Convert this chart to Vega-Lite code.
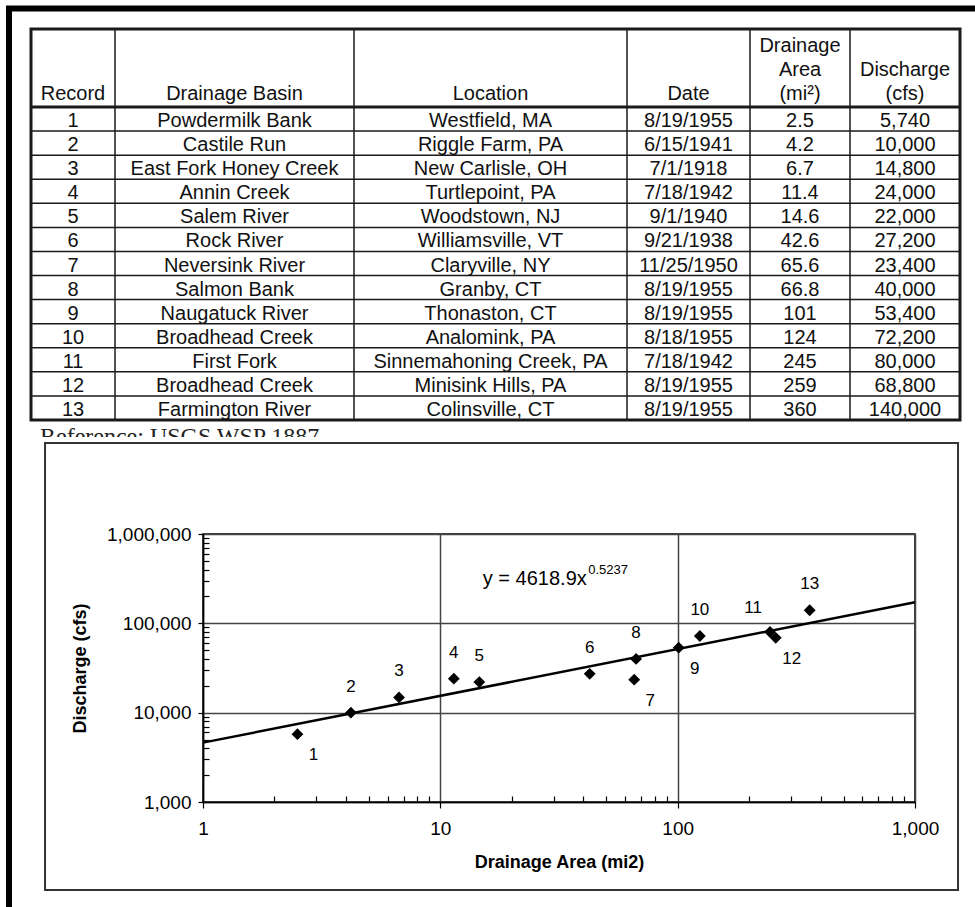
{
"$schema":"https://vega.github.io/schema/vega-lite/v6.json",
"width":712,"height":268,
"autosize":{"type":"none"},
"padding":{"left":203,"top":534,"right":60,"bottom":105},
"background":"white",
"config":{"view":{"stroke":"black","strokeWidth":1.5},"font":"Liberation Sans","text":{"font":"Liberation Sans","color":"#111"}},
"datasets":{
"records":[
{"Record":1,"Basin":"Powdermilk Bank","Location":"Westfield, MA","Date":"8/19/1955","Area":2.5,"Discharge":5740},
{"Record":2,"Basin":"Castile Run","Location":"Riggle Farm, PA","Date":"6/15/1941","Area":4.2,"Discharge":10000},
{"Record":3,"Basin":"East Fork Honey Creek","Location":"New Carlisle, OH","Date":"7/1/1918","Area":6.7,"Discharge":14800},
{"Record":4,"Basin":"Annin Creek","Location":"Turtlepoint, PA","Date":"7/18/1942","Area":11.4,"Discharge":24000},
{"Record":5,"Basin":"Salem River","Location":"Woodstown, NJ","Date":"9/1/1940","Area":14.6,"Discharge":22000},
{"Record":6,"Basin":"Rock River","Location":"Williamsville, VT","Date":"9/21/1938","Area":42.6,"Discharge":27200},
{"Record":7,"Basin":"Neversink River","Location":"Claryville, NY","Date":"11/25/1950","Area":65.6,"Discharge":23400},
{"Record":8,"Basin":"Salmon Bank","Location":"Granby, CT","Date":"8/19/1955","Area":66.8,"Discharge":40000},
{"Record":9,"Basin":"Naugatuck River","Location":"Thonaston, CT","Date":"8/19/1955","Area":101,"Discharge":53400},
{"Record":10,"Basin":"Broadhead Creek","Location":"Analomink, PA","Date":"8/18/1955","Area":124,"Discharge":72200},
{"Record":11,"Basin":"First Fork","Location":"Sinnemahoning Creek, PA","Date":"7/18/1942","Area":245,"Discharge":80000},
{"Record":12,"Basin":"Broadhead Creek","Location":"Minisink Hills, PA","Date":"8/19/1955","Area":259,"Discharge":68800},
{"Record":13,"Basin":"Farmington River","Location":"Colinsville, CT","Date":"8/19/1955","Area":360,"Discharge":140000}
],
"headers":[
{"col":0,"label":"Record"},
{"col":1,"label":"Drainage Basin"},
{"col":2,"label":"Location"},
{"col":3,"label":"Date"},
{"col":4,"label":"Drainage\nArea\n(mi²)"},
{"col":5,"label":"Discharge\n(cfs)"}
],
"trend":[
{"Area":1,"Discharge":4619},
{"Area":1000,"Discharge":172000}
]
},
"resolve":{"scale":{"x":"independent","y":"independent"}},
"layer":[
{"layer":[
{"data":{"values":[{}]},"mark":{"type":"rect","fill":"transparent","stroke":"black","strokeWidth":6},
 "encoding":{"x":{"datum":-0.762,"type":"quantitative","scale":{"type":"linear","domain":[-0.5,0.5,1.5,2.5,3.5,4.5,5.5],"range":[-172,-88,151,424,547,647,757],"zero":false,"nice":false},"axis":null},"x2":{"datum":9},
 "y":{"datum":-1.263,"type":"quantitative","scale":{"type":"linear","domain":[-1,0,13],"range":[-505,-427,-114],"zero":false,"nice":false},"axis":null},"y2":{"datum":45}}},
{"data":{"values":[{}]},"mark":{"type":"rect","fill":"transparent","stroke":"#1a1a1a","strokeWidth":3},
 "encoding":{"x":{"datum":-0.5,"type":"quantitative","axis":null},"x2":{"datum":5.5},"y":{"datum":-1,"type":"quantitative","axis":null},"y2":{"datum":13}}},
{"data":{"values":[{}]},"mark":{"type":"rule","color":"#1a1a1a","strokeWidth":3},
 "encoding":{"x":{"datum":-0.5,"type":"quantitative","axis":null},"x2":{"datum":5.5},"y":{"datum":0,"type":"quantitative","axis":null}}},
{"data":{"name":"records"},"mark":{"type":"rule","color":"#1a1a1a","strokeWidth":1.5},
 "encoding":{"x":{"datum":-0.5,"type":"quantitative","axis":null},"x2":{"datum":5.5},"y":{"field":"Record","type":"quantitative","axis":null}}},
{"data":{"values":[{}]},"mark":{"type":"rule","color":"#1a1a1a","strokeWidth":1.5},
 "encoding":{"x":{"datum":0.5,"type":"quantitative","axis":null},"y":{"datum":-1,"type":"quantitative","axis":null},"y2":{"datum":13}}},
{"data":{"values":[{}]},"mark":{"type":"rule","color":"#1a1a1a","strokeWidth":1.5},
 "encoding":{"x":{"datum":1.5,"type":"quantitative","axis":null},"y":{"datum":-1,"type":"quantitative","axis":null},"y2":{"datum":13}}},
{"data":{"values":[{}]},"mark":{"type":"rule","color":"#1a1a1a","strokeWidth":1.5},
 "encoding":{"x":{"datum":2.5,"type":"quantitative","axis":null},"y":{"datum":-1,"type":"quantitative","axis":null},"y2":{"datum":13}}},
{"data":{"values":[{}]},"mark":{"type":"rule","color":"#1a1a1a","strokeWidth":1.5},
 "encoding":{"x":{"datum":3.5,"type":"quantitative","axis":null},"y":{"datum":-1,"type":"quantitative","axis":null},"y2":{"datum":13}}},
{"data":{"values":[{}]},"mark":{"type":"rule","color":"#1a1a1a","strokeWidth":1.5},
 "encoding":{"x":{"datum":4.5,"type":"quantitative","axis":null},"y":{"datum":-1,"type":"quantitative","axis":null},"y2":{"datum":13}}},
{"data":{"name":"headers"},"transform":[{"filter":{"field":"col","oneOf":[0,1,2,3]}}],
 "mark":{"type":"text","fontSize":20,"align":"center","baseline":"alphabetic","dy":-7},
 "encoding":{"x":{"field":"col","type":"quantitative","axis":null},"y":{"datum":0,"type":"quantitative","axis":null},"text":{"field":"label","type":"nominal"}}},
{"data":{"name":"headers"},"transform":[{"filter":{"field":"col","oneOf":[5]}}],
 "mark":{"type":"text","fontSize":20,"align":"center","baseline":"alphabetic","dy":-31,"lineBreak":"\n","lineHeight":24},
 "encoding":{"x":{"field":"col","type":"quantitative","axis":null},"y":{"datum":0,"type":"quantitative","axis":null},"text":{"field":"label","type":"nominal"}}},
{"data":{"name":"headers"},"transform":[{"filter":{"field":"col","oneOf":[4]}}],
 "mark":{"type":"text","fontSize":20,"align":"center","baseline":"alphabetic","dy":-55,"lineBreak":"\n","lineHeight":24},
 "encoding":{"x":{"field":"col","type":"quantitative","axis":null},"y":{"datum":0,"type":"quantitative","axis":null},"text":{"field":"label","type":"nominal"}}},
{"data":{"name":"records"},"mark":{"type":"text","fontSize":20,"align":"center","baseline":"alphabetic","dy":-4},
 "encoding":{"x":{"datum":0,"type":"quantitative","axis":null},"y":{"field":"Record","type":"quantitative","axis":null},"text":{"field":"Record","type":"nominal"}}},
{"data":{"name":"records"},"mark":{"type":"text","fontSize":20,"align":"center","baseline":"alphabetic","dy":-4},
 "encoding":{"x":{"datum":1,"type":"quantitative","axis":null},"y":{"field":"Record","type":"quantitative","axis":null},"text":{"field":"Basin","type":"nominal"}}},
{"data":{"name":"records"},"mark":{"type":"text","fontSize":20,"align":"center","baseline":"alphabetic","dy":-4},
 "encoding":{"x":{"datum":2,"type":"quantitative","axis":null},"y":{"field":"Record","type":"quantitative","axis":null},"text":{"field":"Location","type":"nominal"}}},
{"data":{"name":"records"},"mark":{"type":"text","fontSize":20,"align":"center","baseline":"alphabetic","dy":-4},
 "encoding":{"x":{"datum":3,"type":"quantitative","axis":null},"y":{"field":"Record","type":"quantitative","axis":null},"text":{"field":"Date","type":"nominal"}}},
{"data":{"name":"records"},"mark":{"type":"text","fontSize":20,"align":"center","baseline":"alphabetic","dy":-4},
 "encoding":{"x":{"datum":4,"type":"quantitative","axis":null},"y":{"field":"Record","type":"quantitative","axis":null},"text":{"field":"Area","type":"nominal"}}},
{"data":{"name":"records"},"mark":{"type":"text","fontSize":20,"align":"center","baseline":"alphabetic","dy":-4},
 "encoding":{"x":{"datum":5,"type":"quantitative","axis":null},"y":{"field":"Record","type":"quantitative","axis":null},"text":{"field":"Discharge","type":"quantitative","format":","}}},
{"data":{"values":[{}]},"mark":{"type":"text","font":"Liberation Serif","fontSize":24,"align":"left","baseline":"alphabetic","color":"#222"},
 "encoding":{"x":{"datum":-0.393,"type":"quantitative","axis":null},"y":{"datum":14,"type":"quantitative","axis":null},"text":{"value":"Reference: USGS WSP 1887"}}},
{"data":{"values":[{}]},"mark":{"type":"rect","fill":"white","strokeWidth":0},
 "encoding":{"x":{"datum":-0.5,"type":"quantitative","axis":null},"x2":{"datum":5.5},"y":{"datum":13.71,"type":"quantitative","axis":null},"y2":{"datum":14.9}}}
]},
{"resolve":{"axis":{"x":"independent","y":"independent"}},
 "layer":[
{"data":{"name":"records"},"mark":{"type":"point","shape":"diamond","filled":true,"color":"black","opacity":1,"size":140},
 "encoding":{
  "x":{"field":"Area","type":"quantitative","scale":{"type":"log","domain":[1,1000],"nice":false},
   "axis":{"orient":"bottom","values":[1,10,100,1000],"format":",",
    "grid":true,"gridColor":"#444","gridWidth":1.5,
    "tickSize":6,"tickColor":"black","tickWidth":1.2,"domainColor":"black","domainWidth":1.5,
    "labelFontSize":19,"labelColor":"black","labelPadding":11,"labelFlush":false,"labelOverlap":false,
    "title":"Drainage Area (mi2)","titleFontSize":18,"titleFontWeight":"bold","titleColor":"black","titlePadding":15}},
  "y":{"field":"Discharge","type":"quantitative","scale":{"type":"log","domain":[1000,1000000],"nice":false},
   "axis":{"orient":"left","values":[1000,10000,100000,1000000],"format":",",
    "grid":true,"gridColor":"#444","gridWidth":1.5,
    "tickSize":5,"tickColor":"black","tickWidth":1.2,"domainColor":"black","domainWidth":1.5,
    "labelFontSize":19,"labelColor":"black","labelPadding":7,"labelFlush":false,"labelOverlap":false,
    "title":"Discharge (cfs)","titleFontSize":18,"titleFontWeight":"bold","titleColor":"black","titlePadding":17}}}},
{"data":{"name":"trend"},"mark":{"type":"line","color":"black","strokeWidth":2.5},
 "encoding":{
  "x":{"field":"Area","type":"quantitative",
   "axis":{"orient":"bottom","values":[2,3,4,5,6,7,8,9,20,30,40,50,60,70,80,90,200,300,400,500,600,700,800,900],
    "labels":false,"grid":false,"domain":false,"title":null,"tickSize":-6,"tickColor":"black","tickWidth":1.2}},
  "y":{"field":"Discharge","type":"quantitative",
   "axis":{"orient":"left","values":[2000,3000,4000,5000,6000,7000,8000,9000,20000,30000,40000,50000,60000,70000,80000,90000,200000,300000,400000,500000,600000,700000,800000,900000],
    "labels":false,"grid":false,"domain":false,"title":null,"tickSize":-6,"tickColor":"black","tickWidth":1.2}}}},
{"data":{"name":"records"},"transform":[{"filter":{"field":"Record","oneOf":[2,3,4,5,6,8,10,13]}}],
 "mark":{"type":"text","fontSize":17,"align":"center","baseline":"middle","dy":-26,"color":"black"},
 "encoding":{"x":{"field":"Area","type":"quantitative","axis":null},"y":{"field":"Discharge","type":"quantitative","axis":null},"text":{"field":"Record","type":"nominal"}}},
{"data":{"name":"records"},"transform":[{"filter":{"field":"Record","oneOf":[1,7,9,12]}}],
 "mark":{"type":"text","fontSize":17,"align":"center","baseline":"middle","dx":16,"dy":21,"color":"black"},
 "encoding":{"x":{"field":"Area","type":"quantitative","axis":null},"y":{"field":"Discharge","type":"quantitative","axis":null},"text":{"field":"Record","type":"nominal"}}},
{"data":{"name":"records"},"transform":[{"filter":{"field":"Record","oneOf":[11]}}],
 "mark":{"type":"text","fontSize":17,"align":"center","baseline":"middle","dx":-17,"dy":-24,"color":"black"},
 "encoding":{"x":{"field":"Area","type":"quantitative","axis":null},"y":{"field":"Discharge","type":"quantitative","axis":null},"text":{"field":"Record","type":"nominal"}}},
{"data":{"values":[{}]},"mark":{"type":"text","fontSize":20,"align":"left","baseline":"alphabetic","color":"black"},
 "encoding":{"x":{"datum":15.1,"type":"quantitative","axis":null},"y":{"datum":268500,"type":"quantitative","axis":null},"text":{"value":"y = 4618.9x"}}},
{"data":{"values":[{}]},"mark":{"type":"text","fontSize":13,"align":"left","baseline":"alphabetic","color":"black"},
 "encoding":{"x":{"datum":42,"type":"quantitative","axis":null},"y":{"datum":360000,"type":"quantitative","axis":null},"text":{"value":"0.5237"}}},
{"data":{"values":[{}]},"mark":{"type":"rect","fill":"transparent","stroke":"#333","strokeWidth":2},
 "encoding":{"x":{"datum":0.216,"type":"quantitative","axis":null},"x2":{"datum":1518},"y":{"datum":10440000,"type":"quantitative","axis":null},"y2":{"datum":103.5}}}
]}
]
}
